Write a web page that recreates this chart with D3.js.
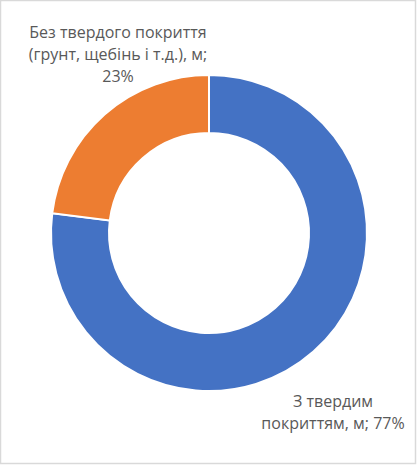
<!DOCTYPE html>
<html>
<head>
<meta charset="utf-8">
<script src="https://cdn.jsdelivr.net/npm/d3@7"></script>
<style>
  html, body { margin: 0; padding: 0; background: #fff; }
  svg { display: block; }
</style>
</head>
<body>
<div id="chart"></div>
<script>
'use strict';

var categories = ['З твердим покриттям, м', 'Без твердого покриття (грунт, щебінь і т.д.), м'];
var shares = [77, 23];
var colors = ['#4472C4', '#ED7D31'];
var labelLines = [
  ['З твердим', 'покриттям, м; 77%'],
  ['Без твердого покриття', '(грунт, щебінь і т.д.), м;', '23%']
];
var labelPos = [[333, 407], [118, 38]];

var width = 418, height = 466;
var cx = 209, cy = 233;
var outerR = 158, innerR = 100;

var svg = d3.select('#chart').append('svg')
  .attr('width', width)
  .attr('height', height);

svg.append('rect')
  .attr('x', 0.5).attr('y', 0.5)
  .attr('width', width - 3).attr('height', height - 3)
  .attr('fill', '#fff')
  .attr('stroke', '#d9d9d9')
  .attr('stroke-width', 1.5);

var pie = d3.pie().sort(null).value(function (d) { return d; });
var arc = d3.arc().innerRadius(innerR).outerRadius(outerR);

var g = svg.append('g').attr('transform', 'translate(' + cx + ',' + cy + ')');

g.selectAll('path')
  .data(pie(shares)).enter()
  .append('path')
  .attr('d', arc)
  .attr('fill', function (d, i) { return colors[i]; })
  .attr('stroke', '#fff')
  .attr('stroke-width', 2)
  .append('title')
  .text(function (d, i) { return categories[i] + '; ' + shares[i] + '%'; });

labelLines.forEach(function (lines, i) {
  var t = svg.append('text')
    .attr('x', labelPos[i][0])
    .attr('y', labelPos[i][1])
    .attr('text-anchor', 'middle')
    .attr('font-family', 'Open Sans, sans-serif')
    .attr('font-size', 16)
    .attr('fill', '#595959');
  lines.forEach(function (line, j) {
    t.append('tspan')
      .attr('x', labelPos[i][0])
      .attr('dy', j === 0 ? 0 : 22)
      .text(line);
  });
});
</script>
</body>
</html>
